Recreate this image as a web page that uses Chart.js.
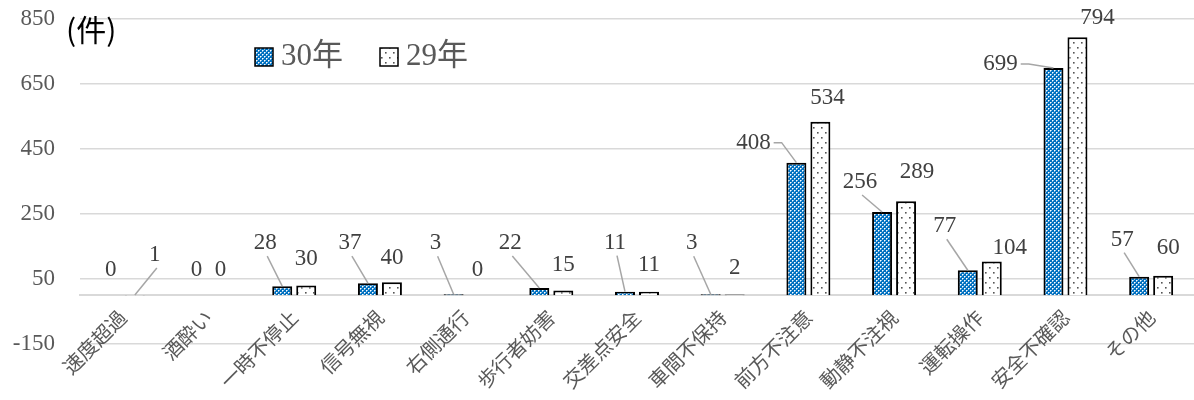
<!DOCTYPE html>
<html>
<head>
<meta charset="utf-8">
<script src="https://cdn.jsdelivr.net/npm/chart.js@4.4.1/dist/chart.umd.min.js"></script>
<style>
  html, body { margin: 0; background: #fff; }
</style>
</head>
<body>
<canvas id="grafico" width="1194" height="400"></canvas>
<script>
// Categorias e valores (件)
const categorias = ['速度超過', '酒酔い', '一時不停止', '信号無視', '右側通行', '歩行者妨害', '交差点安全', '車間不保持', '前方不注意', '動静不注視', '運転操作', '安全不確認', 'その他'];
const series = ['30年', '29年'];
const valores30 = [0, 0, 28, 37, 3, 22, 11, 3, 408, 256, 77, 699, 57];
const valores29 = [1, 0, 30, 40, 0, 15, 11, 2, 534, 289, 104, 794, 60];
const eixoMin = -150;
const eixoMax = 850;
const eixoPasso = 200;

// Posição dos rótulos em relação ao topo de cada barra (px) e se levam linha guia
const desloc30 = [[0, -25], [0, -25], [-17, -43], [-18, -40], [-18, -51], [-29, -45], [-10, -49], [-19, -51], [-43, -20], [-22, -30], [-23, -44], [-53, -4], [-17, -37]];
const desloc29 = [[20, -40], [0, -25], [0, -27], [0, -24], [0, -25], [0, -25], [0, -27], [0, -27], [7, -24], [11, -29], [18, -13], [20, -19], [5, -28]];
const guia30 = [0, 0, 1, 1, 1, 1, 1, 1, 1, 1, 1, 1, 1];
const guia29 = [1, 0, 0, 0, 0, 0, 0, 0, 0, 0, 0, 0, 0];

const FONTE_NUM = '"Liberation Serif", "Noto Sans CJK JP", serif';
const FONTE_JP = '"Noto Sans CJK JP", sans-serif';

const canvas = document.getElementById('grafico');
const ctx = canvas.getContext('2d');

// Padrão azul quadriculado (30年)
function padraoAzul() {
    const c = document.createElement('canvas');
    c.width = 4; c.height = 4;
    const g = c.getContext('2d');
    g.fillStyle = '#0070c0';
    g.fillRect(0, 0, 4, 4);
    g.fillStyle = '#ffffff';
    g.fillRect(0, 0, 1, 1);
    g.fillRect(2, 2, 1, 1);
    g.fillStyle = 'rgba(255,255,255,0.55)';
    g.fillRect(1, 0, 1, 1); g.fillRect(0, 1, 1, 1);
    g.fillRect(3, 2, 1, 1); g.fillRect(2, 3, 1, 1);
    return ctx.createPattern(c, 'repeat');
}

// Padrão pontilhado (29年)
function padraoPontos() {
    const c = document.createElement('canvas');
    c.width = 8; c.height = 10;
    const g = c.getContext('2d');
    g.fillStyle = '#ffffff';
    g.fillRect(0, 0, 8, 10);
    g.fillStyle = '#555555';
    g.fillRect(1, 2, 1.6, 1.6);
    g.fillRect(5, 7, 1.6, 1.6);
    return ctx.createPattern(c, 'repeat');
}

const azul = padraoAzul();
const pontos = padraoPontos();

// Rótulos de valor, linhas guia, legenda e unidade
const rotulos = {
    id: 'rotulos',
    afterDatasetsDraw(chart) {
        const c = chart.ctx;
        c.save();
        c.font = '23px ' + FONTE_NUM;
        c.textAlign = 'center';
        c.textBaseline = 'middle';
        [[0, desloc30, guia30], [1, desloc29, guia29]].forEach(([d, desl, guia]) => {
            const meta = chart.getDatasetMeta(d);
            meta.data.forEach((barra, i) => {
                const txt = String(chart.data.datasets[d].data[i]);
                const lx = barra.x + desl[i][0];
                const ly = barra.y + desl[i][1];
                if (guia[i]) {
                    c.strokeStyle = '#a6a6a6';
                    c.lineWidth = 1.5;
                    c.beginPath();
                    if (desl[i][0] < -35) {
                        const sx = lx + c.measureText(txt).width / 2 + 3;
                        c.moveTo(sx, ly);
                        c.lineTo(sx + 8, ly);
                    } else {
                        c.moveTo(lx + 2, ly + 13);
                    }
                    c.lineTo(barra.x, barra.y);
                    c.stroke();
                }
                c.fillStyle = '#404040';
                c.fillText(txt, lx, ly);
            });
        });
        c.restore();
    },
    afterDraw(chart) {
        const c = chart.ctx;
        c.save();
        // unidade
        c.fillStyle = '#000';
        c.font = '30px ' + FONTE_JP;
        c.textBaseline = 'middle';
        c.textAlign = 'left';
        c.fillText('(件)', 66, 30);
        // legenda
        const itens = [[255, azul, series[0]], [380, pontos, series[1]]];
        c.font = '31px ' + FONTE_NUM;
        itens.forEach(([x, fundo, nome]) => {
            c.fillStyle = fundo;
            c.fillRect(x, 48, 18, 18);
            c.strokeStyle = '#000';
            c.lineWidth = 1.5;
            c.strokeRect(x, 48, 18, 18);
            c.fillStyle = '#595959';
            c.fillText(nome, x + 26, 57);
        });
        c.restore();
    }
};

new Chart(ctx, {
    type: 'bar',
    data: {
        labels: categorias,
        datasets: [
            {
                label: series[0],
                data: valores30,
                backgroundColor: azul,
                borderColor: '#000',
                borderWidth: 2,
                borderSkipped: 'bottom',
                categoryPercentage: 0.56,
                barPercentage: 0.833
            },
            {
                label: series[1],
                data: valores29,
                backgroundColor: pontos,
                borderColor: '#000',
                borderWidth: 2,
                borderSkipped: 'bottom',
                categoryPercentage: 0.56,
                barPercentage: 0.833
            }
        ]
    },
    options: {
        responsive: false,
        animation: false,
        layout: { padding: { top: 19, bottom: 56, left: 0, right: 0 } },
        plugins: {
            legend: { display: false },
            tooltip: { enabled: false }
        },
        scales: {
            x: {
                position: { y: 0 },
                grid: { display: false, drawTicks: false },
                border: { color: '#d9d9d9', width: 2 },
                ticks: {
                    color: '#595959',
                    font: { family: FONTE_JP, size: 20 },
                    minRotation: 45,
                    maxRotation: 45,
                    autoSkip: false,
                    padding: 10
                },
                afterFit(escala) { escala.height = 0; }
            },
            y: {
                min: eixoMin,
                max: eixoMax,
                ticks: {
                    stepSize: eixoPasso,
                    color: '#595959',
                    font: { family: FONTE_NUM, size: 23 },
                    padding: 5
                },
                // marca invisível só para afastar os números do eixo
                grid: { color: '#d9d9d9', lineWidth: 1.5, drawTicks: true, tickLength: 20, tickColor: 'rgba(0,0,0,0)' },
                border: { display: false },
                afterFit(escala) { escala.width = 80; }
            }
        }
    },
    plugins: [rotulos]
});
</script>
</body>
</html>
